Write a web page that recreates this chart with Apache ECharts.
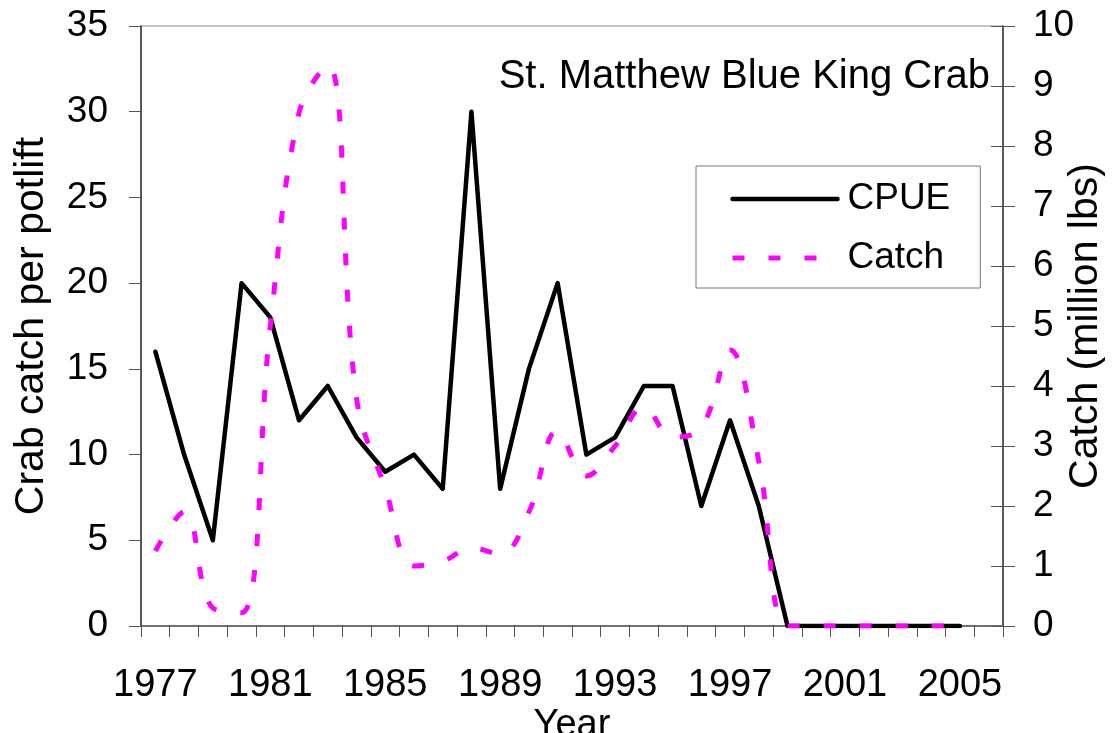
<!DOCTYPE html>
<html>
<head>
<meta charset="utf-8">
<title>St. Matthew Blue King Crab</title>
<script src="https://cdn.jsdelivr.net/npm/echarts@6/dist/echarts.min.js"></script>
<style>
  html, body { margin: 0; padding: 0; background: #fff; }
  #chart { width: 1112px; height: 733px; }
</style>
</head>
<body>
<div id="chart"></div>
<script>
// Fishing seasons
const years = ['1977','1978','1979','1980','1981','1982','1983','1984','1985','1986',
               '1987','1988','1989','1990','1991','1992','1993','1994','1995','1996',
               '1997','1998','1999','2000','2001','2002','2003','2004','2005','2006'];

// Crab catch per potlift (left axis)
const cpue = [16, 10, 5, 20, 18, 12, 14, 11, 9, 10,
              8, 30, 8, 15, 20, 10, 11, 14, 14, 7,
              12, 7, 0, 0, 0, 0, 0, 0, 0, null];

// Retained catch, million lbs (right axis)
const catchMlbs = [1.25, 1.9, 0.3, 0.22, 5.0, 8.55, 9.35, 3.8, 2.3, 1.0,
                   1.08, 1.3, 1.2, 1.9, 3.25, 2.5, 3.0, 3.65, 3.15, 3.3,
                   4.6, 2.75, 0, 0, 0, 0, 0, 0, 0, null];

const FONT = "'Liberation Sans', Arial, sans-serif";

const chart = echarts.init(document.getElementById('chart'), null, { renderer: 'canvas' });

chart.setOption({
  animation: false,
  backgroundColor: '#ffffff',
  textStyle: { fontFamily: FONT, color: '#000' },
  title: {
    text: 'St. Matthew Blue King Crab',
    right: 117,
    top: 52,
    textStyle: { fontFamily: FONT, fontSize: 40, fontWeight: 'normal', color: '#000' }
  },
  legend: {
    orient: 'vertical',
    left: 696,
    top: 166,
    padding: [13, 30, 10, 34],
    itemGap: 19,
    itemWidth: 105,
    itemHeight: 20,
    borderColor: '#777',
    borderWidth: 1,
    backgroundColor: '#fff',
    itemStyle: { opacity: 0 },
    lineStyle: { width: 'inherit' },
    textStyle: { fontFamily: FONT, fontSize: 37, color: '#000', lineHeight: 40, padding: [0, 0, 0, 5] },
    data: ['CPUE', 'Catch']
  },
  grid: {
    left: 141,
    right: 109,
    top: 26,
    bottom: 107,
    containLabel: false,
    outerBoundsMode: 'none',
    show: true,
    borderColor: '#8a8a8a',
    borderWidth: 1
  },
  xAxis: {
    type: 'category',
    data: years,
    boundaryGap: true,
    name: 'Year',
    nameLocation: 'middle',
    nameGap: 81,
    nameMoveOverlap: false,
    nameTextStyle: { fontFamily: FONT, fontSize: 38, color: '#000' },
    axisLine: { lineStyle: { color: '#555', width: 1.5 } },
    axisTick: { show: true, interval: 0, length: 11, lineStyle: { color: '#555', width: 1 } },
    axisLabel: { interval: 3, margin: 41, fontFamily: FONT, fontSize: 38, color: '#000' },
    splitLine: { show: false }
  },
  yAxis: [
    {
      type: 'value',
      position: 'left',
      min: 0,
      max: 35,
      interval: 5,
      name: 'Crab catch per potlift',
      nameLocation: 'middle',
      nameRotate: 90,
      nameGap: 89,
      nameMoveOverlap: false,
      nameTextStyle: { fontFamily: FONT, fontSize: 41, color: '#000' },
      axisLine: { show: true, lineStyle: { color: '#333', width: 1.5 } },
      axisTick: { show: true, length: 12, lineStyle: { color: '#555', width: 1 } },
      axisLabel: { margin: 33, fontFamily: FONT, fontSize: 37, color: '#000' },
      splitLine: { show: false }
    },
    {
      type: 'value',
      position: 'right',
      min: 0,
      max: 10,
      interval: 1,
      name: 'Catch (million lbs)',
      nameLocation: 'middle',
      nameRotate: 90,
      nameGap: 62,
      nameMoveOverlap: false,
      nameTextStyle: { fontFamily: FONT, fontSize: 41, color: '#000' },
      axisLine: { show: true, lineStyle: { color: '#333', width: 1.5 } },
      axisTick: { show: true, length: 12, lineStyle: { color: '#555', width: 1 } },
      axisLabel: { margin: 30, fontFamily: FONT, fontSize: 37, color: '#000' },
      splitLine: { show: false }
    },
    {
      // inner half of the crossing ticks on the right axis
      type: 'value',
      position: 'right',
      min: 0,
      max: 10,
      interval: 1,
      axisLine: { show: false },
      axisTick: { show: true, inside: true, length: 12, lineStyle: { color: '#555', width: 1 } },
      axisLabel: { show: false },
      splitLine: { show: false }
    }
  ],
  series: [
    {
      name: 'CPUE',
      type: 'line',
      yAxisIndex: 0,
      data: cpue,
      symbol: 'none',
      color: '#000',
      lineStyle: { color: '#000', width: 4.5, cap: 'round', join: 'round' },
      z: 2
    },
    {
      name: 'Catch',
      type: 'line',
      yAxisIndex: 1,
      data: catchMlbs,
      symbol: 'none',
      smooth: 0.4,
      color: '#ff00ff',
      lineStyle: { color: '#ff00ff', width: 5, type: [12, 24] },
      z: 3
    }
  ]
});
</script>
</body>
</html>
